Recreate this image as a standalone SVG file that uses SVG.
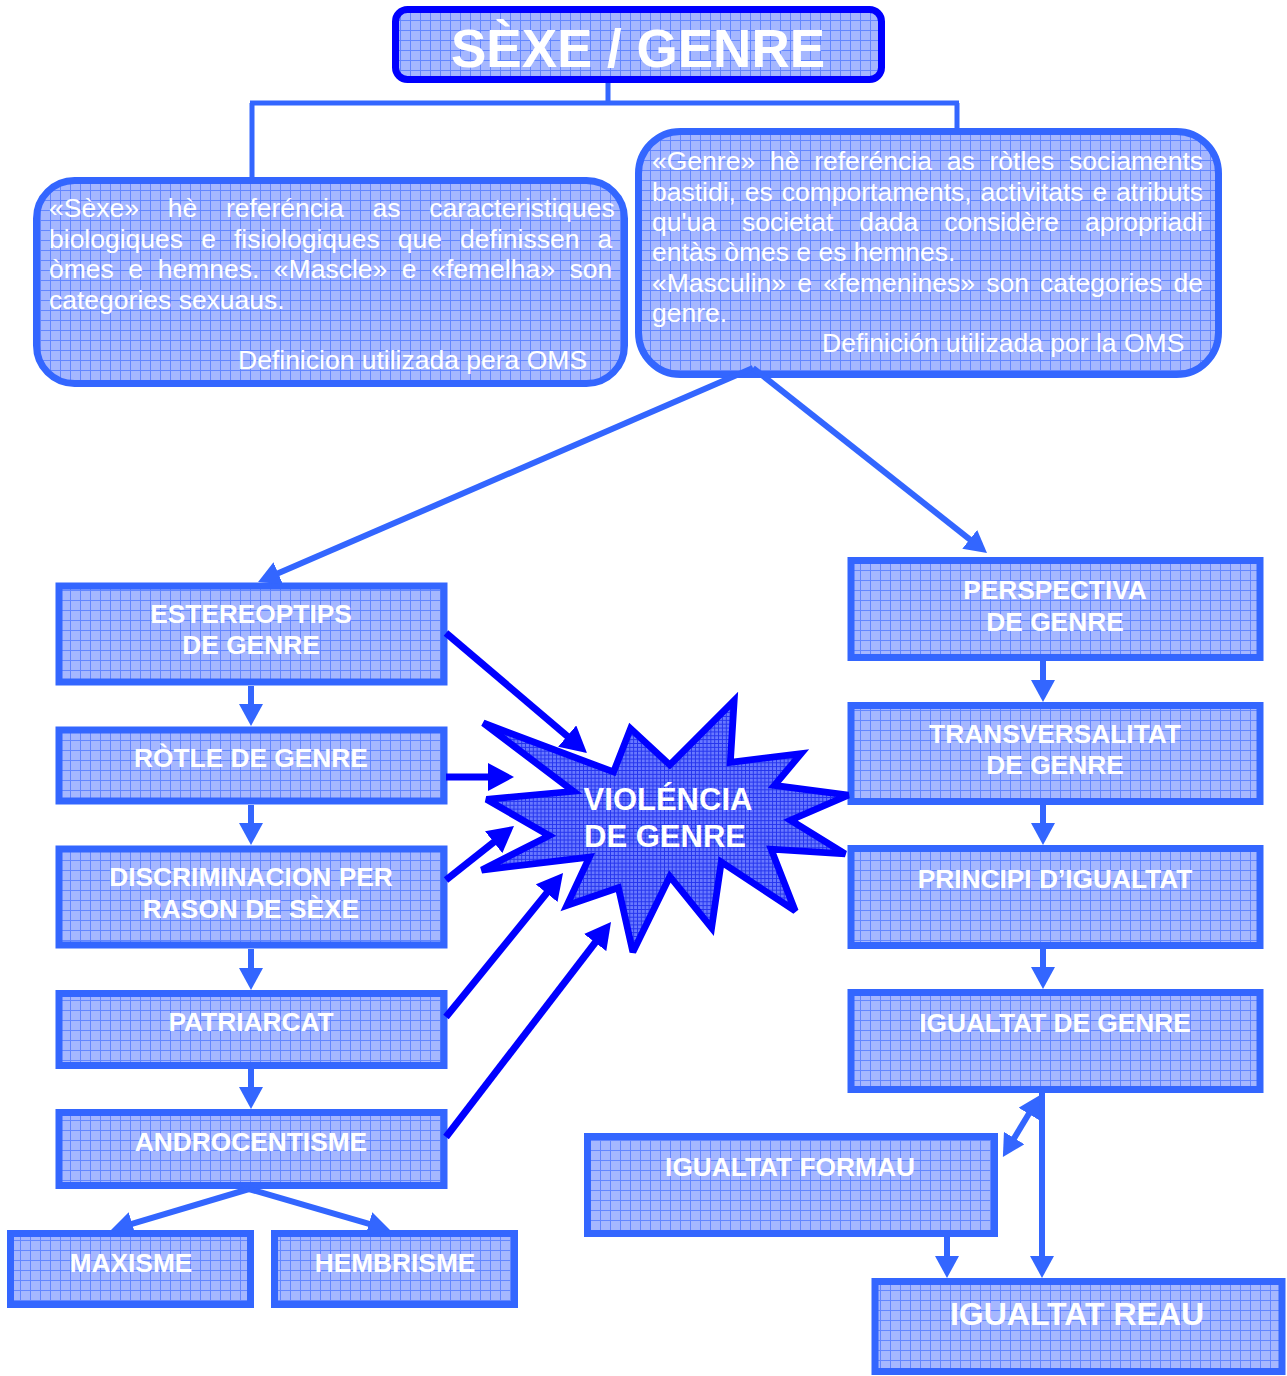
<svg xmlns="http://www.w3.org/2000/svg" width="1287" height="1376" viewBox="0 0 1287 1376">
<style>
.box{fill:url(#grid);stroke:#3366FF;stroke-width:7}
.title{fill:url(#grid);stroke:#0000FF;stroke-width:7}
.lbl{font-family:"Liberation Sans",Arial,sans-serif;font-weight:bold;font-size:26.3px;fill:#FFFFFF;text-anchor:middle}
.body{font-family:"Liberation Sans",Arial,sans-serif;font-size:26.5px;fill:#FFFFFF}
.cl{fill:none;stroke:#3366FF;stroke-width:6}
.cd{fill:none;stroke:#0000FF;stroke-width:7}
</style>
<defs>
<pattern id="grid" width="10" height="10" patternUnits="userSpaceOnUse">
<rect width="10" height="10" fill="#A5B7FF"/>
<path d="M0,0.5 H10 M0.5,0 V10" stroke="#6386FF" stroke-width="1"/>
</pattern>
<pattern id="stargrid" width="4" height="4" patternUnits="userSpaceOnUse">
<rect width="4" height="4" fill="#6878FF"/>
<path d="M0,0.5 H4 M0.5,0 V4" stroke="#2535EE" stroke-width="1"/>
</pattern>
<marker id="arrL" viewBox="0 0 22 24" refX="2" refY="12" markerWidth="22" markerHeight="24" markerUnits="userSpaceOnUse" orient="auto-start-reverse">
<path d="M0,0 L22,12 L0,24 z" fill="#3366FF"/>
</marker>
<marker id="arrD" viewBox="0 0 26 28" refX="2" refY="14" markerWidth="26" markerHeight="28" markerUnits="userSpaceOnUse" orient="auto-start-reverse">
<path d="M0,0 L26,14 L0,28 z" fill="#0000FF"/>
</marker>
</defs>
<rect width="1287" height="1376" fill="#FFFFFF"/>

<g id="sexe-genre">
<rect class="title" x="395.5" y="9.5" width="486" height="70" rx="12"/>
<text class="lbl" x="638" y="67" style="font-size:53px">SÈXE / GENRE</text>
</g>

<g id="def-sexe">
<rect class="box" x="36.5" y="180.5" width="588" height="203" rx="38"/>
<text class="body" x="49" y="217" word-spacing="21.4">«Sèxe» hè referéncia as caracteristiques</text>
<text class="body" x="49" y="247.5" word-spacing="10.7">biologiques e fisiologiques que definissen a</text>
<text class="body" x="49" y="278" word-spacing="7.2">òmes e hemnes. «Mascle» e «femelha» son</text>
<text class="body" x="49" y="308.5">categories sexuaus.</text>
<text class="body" x="238" y="369">Definicion utilizada pera OMS</text>
</g>

<g id="def-genre">
<rect class="box" x="638.5" y="131.5" width="580" height="243" rx="42"/>
<text class="body" x="652" y="170" word-spacing="7.4">«Genre» hè referéncia as ròtles sociaments</text>
<text class="body" x="652" y="200.5" word-spacing="1.5">bastidi, es comportaments, activitats e atributs</text>
<text class="body" x="652" y="231" word-spacing="18.6">qu'ua societat dada considère apropriadi</text>
<text class="body" x="652" y="261">entàs òmes e es hemnes.</text>
<text class="body" x="652" y="292" word-spacing="3.85">«Masculin» e «femenines» son categories de</text>
<text class="body" x="652" y="322">genre.</text>
<text class="body" x="822" y="352">Definición utilizada por la OMS</text>
</g>

<g id="estereoptips">
<rect class="box" x="59" y="586" width="385" height="96"/>
<text class="lbl" x="251" y="623">ESTEREOPTIPS</text>
<text class="lbl" x="251" y="654">DE GENRE</text>
</g>
<g id="rotle">
<rect class="box" x="59" y="730" width="385" height="71"/>
<text class="lbl" x="251" y="767">RÒTLE DE GENRE</text>
</g>
<g id="discriminacion">
<rect class="box" x="59" y="849" width="385" height="96"/>
<text class="lbl" x="251" y="886">DISCRIMINACION PER</text>
<text class="lbl" x="251" y="918">RASON DE SÈXE</text>
</g>
<g id="patriarcat">
<rect class="box" x="59" y="993.5" width="385" height="72"/>
<text class="lbl" x="251" y="1031">PATRIARCAT</text>
</g>
<g id="androcentisme">
<rect class="box" x="59" y="1112.5" width="385" height="73"/>
<text class="lbl" x="251" y="1151">ANDROCENTISME</text>
</g>
<g id="maxisme">
<rect class="box" x="10.5" y="1233.5" width="240" height="71"/>
<text class="lbl" x="131" y="1272">MAXISME</text>
</g>
<g id="hembrisme">
<rect class="box" x="274.5" y="1233.5" width="240" height="71"/>
<text class="lbl" x="395" y="1272">HEMBRISME</text>
</g>

<g id="perspectiva">
<rect class="box" x="851" y="560.5" width="409" height="97"/>
<text class="lbl" x="1055" y="599">PERSPECTIVA</text>
<text class="lbl" x="1055" y="631">DE GENRE</text>
</g>
<g id="transversalitat">
<rect class="box" x="851" y="705.5" width="409" height="96"/>
<text class="lbl" x="1055" y="743">TRANSVERSALITAT</text>
<text class="lbl" x="1055" y="774">DE GENRE</text>
</g>
<g id="principi">
<rect class="box" x="851" y="848.5" width="409" height="97"/>
<text class="lbl" x="1055" y="888">PRINCIPI D’IGUALTAT</text>
</g>
<g id="igualtat-genre">
<rect class="box" x="851" y="992.5" width="409" height="97"/>
<text class="lbl" x="1055" y="1032">IGUALTAT DE GENRE</text>
</g>
<g id="igualtat-formau">
<rect class="box" x="587.5" y="1136.5" width="407" height="97"/>
<text class="lbl" x="790" y="1176">IGUALTAT FORMAU</text>
</g>
<g id="igualtat-reau">
<rect class="box" x="875" y="1281.5" width="407" height="90"/>
<text class="lbl" x="1077" y="1325" style="font-size:32px">IGUALTAT REAU</text>
</g>

<g id="violencia">
<polygon transform="translate(665,826) scale(0.965) translate(-665,-826)" points="476.7,719.3 611.7,770 629.3,725 670,762.7 736.7,696 732.7,760 806,751 778.3,784 855,794 795,820 851.7,855 775,850 800,914 723.3,863.3 713.3,931.7 670,878.3 631.7,956.7 616.7,890 563.3,908.3 586.7,858.3 475,871.7 545,836 480,798.3 570,790" fill="url(#stargrid)" stroke="#0000FF" stroke-width="7" stroke-linejoin="miter" stroke-miterlimit="3"/>
<text class="lbl" x="668" y="810" style="font-size:31px">VIOLÉNCIA</text>
<text class="lbl" x="665" y="847" style="font-size:31px">DE GENRE</text>
</g>

<g id="connectors">
<path class="cl" d="M608,83 V103 M250,103 H959 M252,103 V178 M957,103 V128" style="stroke-width:5"/>
<path class="cl" d="M753,368 L276.4,574.1" marker-end="url(#arrL)"/>
<path class="cl" d="M753,368 L971.3,540.6" marker-end="url(#arrL)"/>
<path class="cl" d="M251,686 V706" marker-end="url(#arrL)"/>
<path class="cl" d="M251,805 V825" marker-end="url(#arrL)"/>
<path class="cl" d="M251,949 V970" marker-end="url(#arrL)"/>
<path class="cl" d="M251,1069 V1089" marker-end="url(#arrL)"/>
<path class="cl" d="M249,1189 L130.2,1224.3" marker-end="url(#arrL)"/>
<path class="cl" d="M249,1189 L370.8,1224.4" marker-end="url(#arrL)"/>
<path class="cl" d="M1043,661 V682" marker-end="url(#arrL)"/>
<path class="cl" d="M1043,805 V825" marker-end="url(#arrL)"/>
<path class="cl" d="M1043,949 V969" marker-end="url(#arrL)"/>
<path class="cl" d="M1042,1093 V1258" marker-end="url(#arrL)"/>
<path class="cl" d="M947,1237 V1258" marker-end="url(#arrL)"/>
<path class="cl" d="M1013.2,1139.8 L1029.8,1112.2" marker-start="url(#arrL)" marker-end="url(#arrL)"/>
<path class="cd" d="M446,633 L568.7,737.4" marker-end="url(#arrD)"/>
<path class="cd" d="M446,777 L490,777" marker-end="url(#arrD)"/>
<path class="cd" d="M446,880 L495.2,840.9" marker-end="url(#arrD)"/>
<path class="cd" d="M446,1017 L547.9,891.6" marker-end="url(#arrD)"/>
<path class="cd" d="M446,1137 L596.4,941" marker-end="url(#arrD)"/>
</g>
</svg>
